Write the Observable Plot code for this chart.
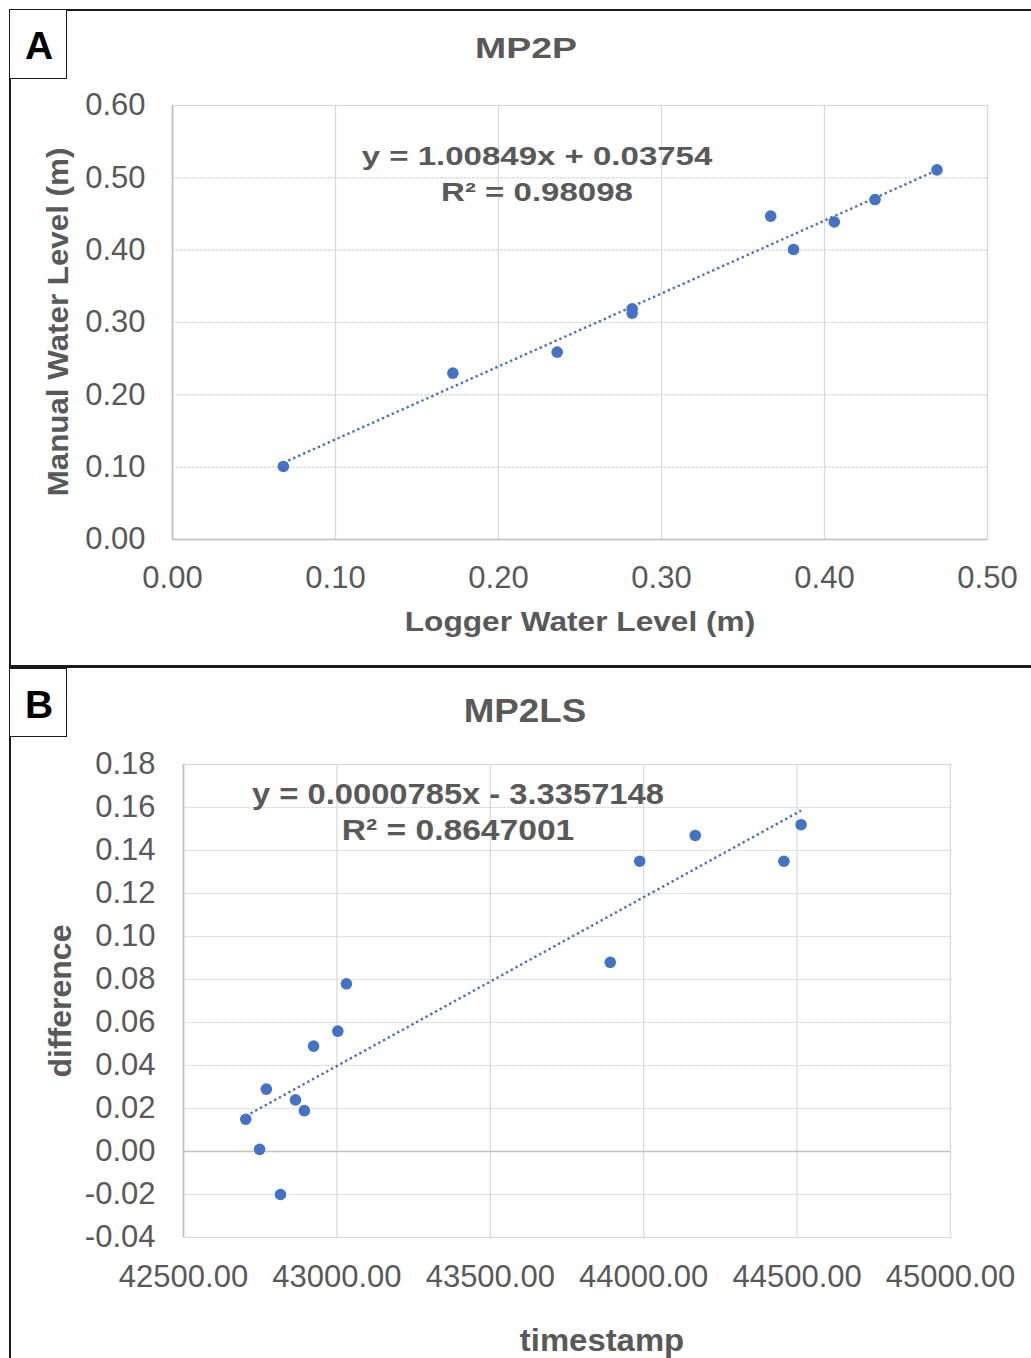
<!DOCTYPE html>
<html>
<head>
<meta charset="utf-8">
<script src="https://cdn.jsdelivr.net/npm/d3@7"></script>
<script src="https://cdn.jsdelivr.net/npm/@observablehq/plot@0.6"></script>
<style>
  html, body { margin: 0; padding: 0; background: #fff; }
  #page { position: relative; width: 1031px; height: 1358px; overflow: hidden; background: #fff;
          font-family: "Liberation Sans", Arial, sans-serif; }
  .t { position: absolute; white-space: nowrap; color: #595959; font-weight: bold; line-height: 1; }
  .line { position: absolute; background: #1a1a1a; }
  .box { position: absolute; border: 1.5px solid #1a1a1a; box-sizing: border-box; background: #fff; }
  .lab { position: absolute; font-weight: bold; color: #000; line-height: 1; transform: translate(-50%, -50%); }
</style>
</head>
<body>
<div id="page"></div>
<script>
// ---------- Panel A data (MP2P) ----------
const loggerA = [0.068, 0.172, 0.236, 0.282, 0.282, 0.367, 0.381, 0.406, 0.431, 0.469];
const manualA = [0.101, 0.230, 0.259, 0.319, 0.313, 0.447, 0.401, 0.439, 0.470, 0.511];
const xTicksA = [0, 0.1, 0.2, 0.3, 0.4, 0.5];
const yTicksA = [0, 0.1, 0.2, 0.3, 0.4, 0.5, 0.6];
const trendA = [1.00849, 0.03754]; // slope, intercept

// ---------- Panel B data (MP2LS) ----------
const timestampB = [42703, 42748, 42770, 42816, 42865, 42894, 42924, 43003, 43031, 43891, 43987, 44168, 44457, 44513];
const diffB = [0.015, 0.001, 0.029, -0.020, 0.024, 0.019, 0.049, 0.056, 0.078, 0.088, 0.135, 0.147, 0.135, 0.152];
const xTicksB = [42500, 43000, 43500, 44000, 44500, 45000];
const yTicksB = [-0.04, -0.02, 0, 0.02, 0.04, 0.06, 0.08, 0.10, 0.12, 0.14, 0.16, 0.18];
const trendB = [0.0000785, -3.3357148];

const blue = "#4472C4";
const grid = "#d9d9d9";
const font = "Liberation Sans, Arial, sans-serif";

const page = document.getElementById("page");

function addText(txt, x, y, size, opts = {}) {
  const d = document.createElement("div");
  d.className = "t";
  d.textContent = txt;
  d.style.left = x + "px";
  d.style.top = y + "px";
  d.style.fontSize = size + "px";
  const sx = opts.sx || 1, rot = opts.rot || 0;
  d.style.transform = `translate(-50%, -50%) rotate(${rot}deg) scaleX(${sx}) scaleY(${opts.sy || 1})`;
  page.appendChild(d);
  return d;
}

function scatter(xs, ys, trend, cfg) {
  const data = xs.map((x, i) => ({x, y: ys[i]}));
  const [xmin, xmax] = d3.extent(xs);
  const tline = [xmin, xmax].map(x => ({x, y: trend[0] * x + trend[1]}));
  return Plot.plot({
    width: 1031,
    height: cfg.height,
    marginLeft: cfg.ml, marginRight: cfg.mr, marginTop: cfg.mt, marginBottom: cfg.mb,
    style: {fontFamily: font, fontSize: cfg.fs + "px", color: "#595959", background: "transparent", overflow: "visible"},
    x: {domain: cfg.xdom},
    y: {domain: cfg.ydom},
    marks: [
      Plot.gridX(cfg.xt, {stroke: grid, strokeOpacity: 1, strokeWidth: 1.2}),
      Plot.gridY(cfg.yt, {stroke: grid, strokeOpacity: 1, strokeWidth: 1.2, strokeDasharray: "3 1"}),
      Plot.frame({stroke: grid, strokeWidth: 1.2}),
      Plot.ruleY([0], {stroke: "#bfbfbf", strokeWidth: 1.6}),
      Plot.ruleX([cfg.xdom[0]], {stroke: "#bfbfbf", strokeWidth: 1.6}),
      Plot.axisX(cfg.xt, {tickSize: 0, tickPadding: cfg.px, tickFormat: d => d.toFixed(2), label: null, fontSize: cfg.fs}),
      Plot.axisY(cfg.yt, {tickSize: 0, tickPadding: cfg.py, tickFormat: d => d.toFixed(2), label: null, fontSize: cfg.fs}),
      Plot.line(tline, {x: "x", y: "y", stroke: blue, strokeWidth: 2.4, strokeDasharray: "2.4 3", strokeLinecap: "butt"}),
      Plot.dot(data, {x: "x", y: "y", r: 5.8, fill: blue, stroke: "none"})
    ]
  });
}

// Panel A plot
const svgA = scatter(loggerA, manualA, trendA, {
  height: 667, ml: 172, mr: 44, mt: 105, mb: 128,
  xdom: [0, 0.5], ydom: [0, 0.6], xt: xTicksA, yt: yTicksA, fs: 31, px: 26, py: 27
});
svgA.style.position = "absolute"; svgA.style.left = "0px"; svgA.style.top = "0px";
page.appendChild(svgA);

// Panel B plot
const svgB = scatter(timestampB, diffB, trendB, {
  height: 691, ml: 183, mr: 81, mt: 97, mb: 121,
  xdom: [42500, 45000], ydom: [-0.04, 0.18], xt: xTicksB, yt: yTicksB, fs: 31, px: 27, py: 28
});
svgB.style.position = "absolute"; svgB.style.left = "0px"; svgB.style.top = "667px";
page.appendChild(svgB);

// Frame lines
function line(l, t, w, h) {
  const d = document.createElement("div");
  d.className = "line";
  Object.assign(d.style, {left: l + "px", top: t + "px", width: w + "px", height: h + "px"});
  page.appendChild(d);
}
line(9, 9, 1022, 2);     // top border
line(9, 9, 2, 1349);     // left border
line(9, 665, 1022, 3);   // separator

function box(l, t, w, h, letter) {
  const d = document.createElement("div");
  d.className = "box";
  Object.assign(d.style, {left: l + "px", top: t + "px", width: w + "px", height: h + "px"});
  page.appendChild(d);
  const s = document.createElement("div");
  s.className = "lab";
  s.textContent = letter;
  Object.assign(s.style, {left: (l + w / 2 + 1) + "px", top: (t + h / 2 + 1) + "px", fontSize: "39px"});
  page.appendChild(s);
}
box(9, 9, 58, 70, "A");
box(9, 668, 58, 69, "B");

// Panel A texts
addText("MP2P", 526, 48, 29, {sx: 1.29});
addText("y = 1.00849x + 0.03754", 537, 156, 26, {sx: 1.27});
addText("R² = 0.98098", 537, 192, 26, {sx: 1.27});
addText("Logger Water Level (m)", 580, 622, 28, {sx: 1.13});
addText("Manual Water Level (m)", 58, 322, 29, {rot: -90, sx: 1.08});

// Panel B texts
addText("MP2LS", 525, 710, 34, {sx: 1.08});
addText("y = 0.0000785x - 3.3357148", 458, 794, 30, {sx: 1.09});
addText("R² = 0.8647001", 458, 830, 30, {sx: 1.12});
addText("timestamp", 602, 1340, 31, {sx: 1.06});
addText("difference", 60, 1001, 32, {rot: -90});
</script>
</body>
</html>
